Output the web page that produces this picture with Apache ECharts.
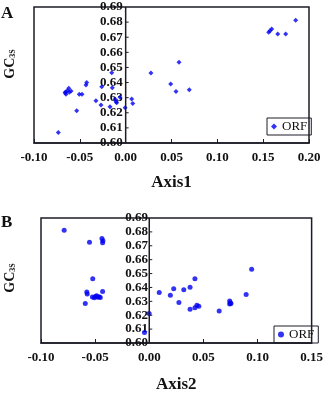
<!DOCTYPE html>
<html>
<head>
<meta charset="utf-8">
<script src="https://cdn.jsdelivr.net/npm/echarts@6/dist/echarts.min.js"></script>
<style>
body{margin:0;background:#fff;}
#main{width:326px;height:394px;}
</style>
</head>
<body>
<div id="main"></div>
<script>
/*------------数据-------------*/
var axis1 = [-0.0735,-0.0534,-0.0662,-0.0651,-0.0637,-0.0621,-0.0615,-0.0596,-0.0655,-0.0506,-0.0476,-0.0433,-0.0425,
	-0.0324,-0.0269,-0.0261,-0.0152,-0.0146,-0.0171,-0.0116,-0.0105,-0.0098,-0.0062,-0.0006,0.0066,0.0077,
	0.0276,0.0582,0.0491,0.0549,0.0694,0.156,0.1575,0.1593,0.1659,0.1746,0.1855];
var gc3sA = [0.607,0.6214,0.6333,0.6322,0.6346,0.6362,0.6336,0.6344,0.6338,0.6322,0.6322,0.6384,0.6401,
	0.628,0.6251,0.6373,0.6465,0.6366,0.624,0.6289,0.6273,0.6267,0.6302,0.6233,0.6291,0.6262,
	0.6463,0.6534,0.639,0.634,0.6353,0.6733,0.6743,0.6754,0.6721,0.6721,0.6812];
var axis2 = [-0.0786,-0.0552,-0.0437,-0.0428,-0.0431,-0.0522,-0.0577,-0.0573,-0.0591,-0.0525,-0.0508,-0.0497,-0.0487,
	-0.0475,-0.0463,-0.0452,-0.0431,-0.0001,-0.0044,0.0092,0.0195,0.0226,0.0274,0.0319,0.0377,0.0377,
	0.0422,0.0422,0.044,0.0458,0.0646,0.0743,0.0749,0.0755,0.0743,0.0895,0.0946];
var gc3sB = [0.6811,0.6725,0.6752,0.6736,0.6722,0.6462,0.6367,0.6353,0.6284,0.6332,0.6325,0.6335,0.634,
	0.633,0.6333,0.6327,0.6371,0.6212,0.6075,0.6364,0.6344,0.639,0.6291,0.6383,0.6401,0.6243,
	0.6462,0.6253,0.6271,0.6264,0.623,0.6303,0.6289,0.6284,0.628,0.6349,0.6531];
var xTicksA = {min:-0.10, max:0.20, interval:0.05};
var xTicksB = {min:-0.10, max:0.15, interval:0.05};
var yTicks = {min:0.60, max:0.69, interval:0.01};
var yTickValues = [0.61,0.62,0.63,0.64,0.65,0.66,0.67,0.68];

var font = 'Liberation Serif, Times New Roman, serif';
var blue = '#0000f0';
var lineColor = '#1c1c28';

var gridA = {left:34, top:7, width:275, height:136};
var gridB = {left:41, top:218, width:275, height:131};

function pairs(xs, ys){
	var out = [];
	for(var i=0;i<xs.length;i++){ out.push([xs[i], ys[i]]); }
	return out;
}
function fmt(v){ return v.toFixed(2); }
// 标签跟着 x=0 走：负 offset 把标签移进网格
function zeroOffset(grid, ticks){
	return -grid.width * (0 - ticks.min) / (ticks.max - ticks.min);
}

function xAxisOf(idx, ticks, name, gap){
	return {
		type:'value', gridIndex:idx,
		min:ticks.min, max:ticks.max, interval:ticks.interval,
		name:name, nameLocation:'middle', nameGap:gap,
		nameTextStyle:{fontFamily:font, fontWeight:'bold', fontSize:17, color:'#111'},
		axisLine:{show:true, onZero:false, lineStyle:{color:lineColor, width:1.5}},
		axisTick:{show:true, inside:true, length:4, lineStyle:{color:lineColor}},
		axisLabel:{formatter:fmt, margin:8, fontFamily:font, fontWeight:'bold', fontSize:13, color:'#111',
			showMinLabel:true, showMaxLabel:true},
		splitLine:{show:false}
	};
}
function yAxisOf(idx, offset){
	return {
		type:'value', gridIndex:idx, position:'left', offset:offset,
		min:yTicks.min, max:yTicks.max, interval:yTicks.interval,
		axisLine:{show:false, onZero:false},
		axisTick:{show:false},
		axisLabel:{formatter:fmt, margin:3, fontFamily:font, fontWeight:'bold', fontSize:13, color:'#111',
			showMinLabel:true, showMaxLabel:true, hideOverlap:false},
		splitLine:{show:false}
	};
}
function gcLabel(y){
	return {
		type:'text', x:10, y:y, rotation:Math.PI/2,
		style:{
			text:'{a|GC}{b|3S}', align:'center', verticalAlign:'middle',
			rich:{
				a:{fontFamily:font, fontWeight:'bold', fontSize:14, fill:'#111'},
				b:{fontFamily:font, fontWeight:'bold', fontSize:8, fill:'#111', verticalAlign:'bottom', padding:[6,0,0,0]}
			}
		}
	};
}
function legendOf(name, left, top){
	return {
		data:[name], left:left, top:top, orient:'horizontal',
		itemWidth:6, itemHeight:6, padding:[2,4,2,4],
		borderColor:lineColor, borderWidth:1,
		formatter:function(){ return 'ORF'; },
		textStyle:{fontFamily:font, fontSize:13, color:'#111'}
	};
}

var chart = echarts.init(document.getElementById('main'));
var baseGraphic = [
	{type:'text', left:1, top:5, style:{text:'A', fontFamily:font, fontWeight:'bold', fontSize:17, fill:'#111'}},
	{type:'text', left:1, top:214, style:{text:'B', fontFamily:font, fontWeight:'bold', fontSize:17, fill:'#111'}},
	gcLabel(64),
	gcLabel(278)
];
var option = {
	animation:false,
	grid:[
		Object.assign({show:true, borderColor:lineColor, borderWidth:1.5}, gridA),
		Object.assign({show:true, borderColor:lineColor, borderWidth:1.5}, gridB)
	],
	xAxis:[xAxisOf(0, xTicksA, 'Axis1', 31), xAxisOf(1, xTicksB, 'Axis2', 33)],
	yAxis:[yAxisOf(0, zeroOffset(gridA, xTicksA)), yAxisOf(1, zeroOffset(gridB, xTicksB))],
	legend:[legendOf('ORF_A', 267, 118), legendOf('ORF_B', 274, 326)],
	series:[{
		name:'ORF_A', type:'scatter', xAxisIndex:0, yAxisIndex:0,
		symbol:'diamond', symbolSize:5, z:3,
		itemStyle:{color:blue},
		data:pairs(axis1, gc3sA)
	},{
		name:'ORF_B', type:'scatter', xAxisIndex:1, yAxisIndex:1,
		symbol:'circle', symbolSize:5, z:3,
		itemStyle:{color:blue},
		data:pairs(axis2, gc3sB)
	}],
	graphic:baseGraphic
};
chart.setOption(option);

/*------------x=0 处的竖轴线和小刻度：用坐标换算得到像素位置----------*/
function zeroAxisGraphic(gridIndex){
	var out = [];
	var p0 = chart.convertToPixel({gridIndex:gridIndex}, [0, yTicks.min]);
	var p1 = chart.convertToPixel({gridIndex:gridIndex}, [0, yTicks.max]);
	out.push({type:'line', z:10, silent:true,
		shape:{x1:p0[0], y1:p0[1], x2:p1[0], y2:p1[1]},
		style:{stroke:lineColor, lineWidth:1.5}});
	yTickValues.forEach(function(v){
		var p = chart.convertToPixel({gridIndex:gridIndex}, [0, v]);
		out.push({type:'line', z:10, silent:true,
			shape:{x1:p[0], y1:p[1], x2:p[0]+3, y2:p[1]},
			style:{stroke:lineColor, lineWidth:1}});
	});
	return out;
}
chart.setOption({
	graphic:baseGraphic.concat(zeroAxisGraphic(0), zeroAxisGraphic(1))
});
</script>
</body>
</html>
